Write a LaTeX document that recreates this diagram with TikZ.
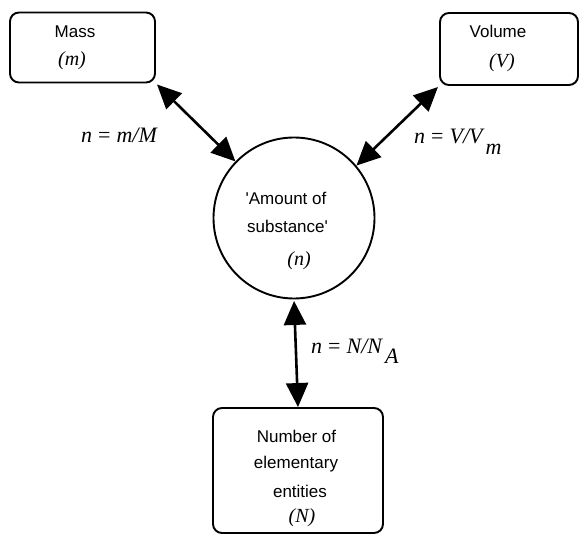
\documentclass[tikz,border=0pt]{standalone}
\usepackage{fontspec}
\setmainfont{Liberation Sans}
\newfontfamily\serf{Liberation Serif}
\usetikzlibrary{arrows.meta}
\newcommand{\myeq}{\hspace{6pt}{\upshape =}\hspace{6pt}}
\begin{document}
\begin{tikzpicture}[x=1pt,y=-1pt,
  box/.style={draw, line width=1.9pt, rounded corners=9pt, inner sep=0pt},
  txt/.style={anchor=base, font=\fontsize{17}{20}\selectfont, inner sep=0pt},
  var/.style={anchor=base, font=\serf\itshape\fontsize{20}{22}\selectfont, inner sep=0pt},
  eq/.style={anchor=base west, font=\serf\itshape\fontsize{22}{24}\selectfont, inner sep=0pt},
  link/.style={line width=2.6pt, shorten <=1.5pt, {Triangle[length=24pt,width=22pt]}-{Triangle[length=24pt,width=22pt]}}]
\useasboundingbox (0,0) rectangle (580,537);
% boxes
\node[box, minimum width=145pt, minimum height=70pt] (mass) at (82.5,47.5) {};
\node[box, minimum width=138pt, minimum height=72pt] (vol) at (509,49) {};
\node[box, minimum width=170pt, minimum height=125pt] (num) at (298,470.5) {};
\node[draw, circle, line width=1.9pt, minimum size=161pt, inner sep=0pt] (amt) at (294,218) {};
% texts
\node[txt] (tmass) at (75,38) {Mass};
\node[var] (vm) at (72,66) {(m)};
\node[txt] (tvol) at (498,38) {Volume};
\node[var] (vv) at (502,68) {(V)};
\node[txt] (tam1) at (286,205) {\textquotesingle Amount of};
\node[txt] (tam2) at (287.5,233) {substance\textquotesingle};
\node[var] (vn) at (299,265) {(n)};
\node[txt] (tn1) at (296.5,442) {Number of};
\node[txt] (tn2) at (296,468) {elementary};
\node[txt] (tn3) at (300,497) {entities};
\node[var] (vN) at (302,522) {(N)};
% equations
\node[eq] (e1) at (81,143) {n\myeq m/M};
\node[eq] (e2) at (414,144) {n\myeq V/V\hspace{3pt}\raisebox{-11pt}{m}};
\node[eq] (e3) at (311,353) {n\myeq N/N\hspace{3pt}\raisebox{-10pt}{A}};
% connectors
\draw[link] (mass.south east) -- (amt.136);
\draw[link] (vol.south west) -- (amt.40);
\draw[link] (amt.south) -- (num.north);
\end{tikzpicture}
\end{document}
